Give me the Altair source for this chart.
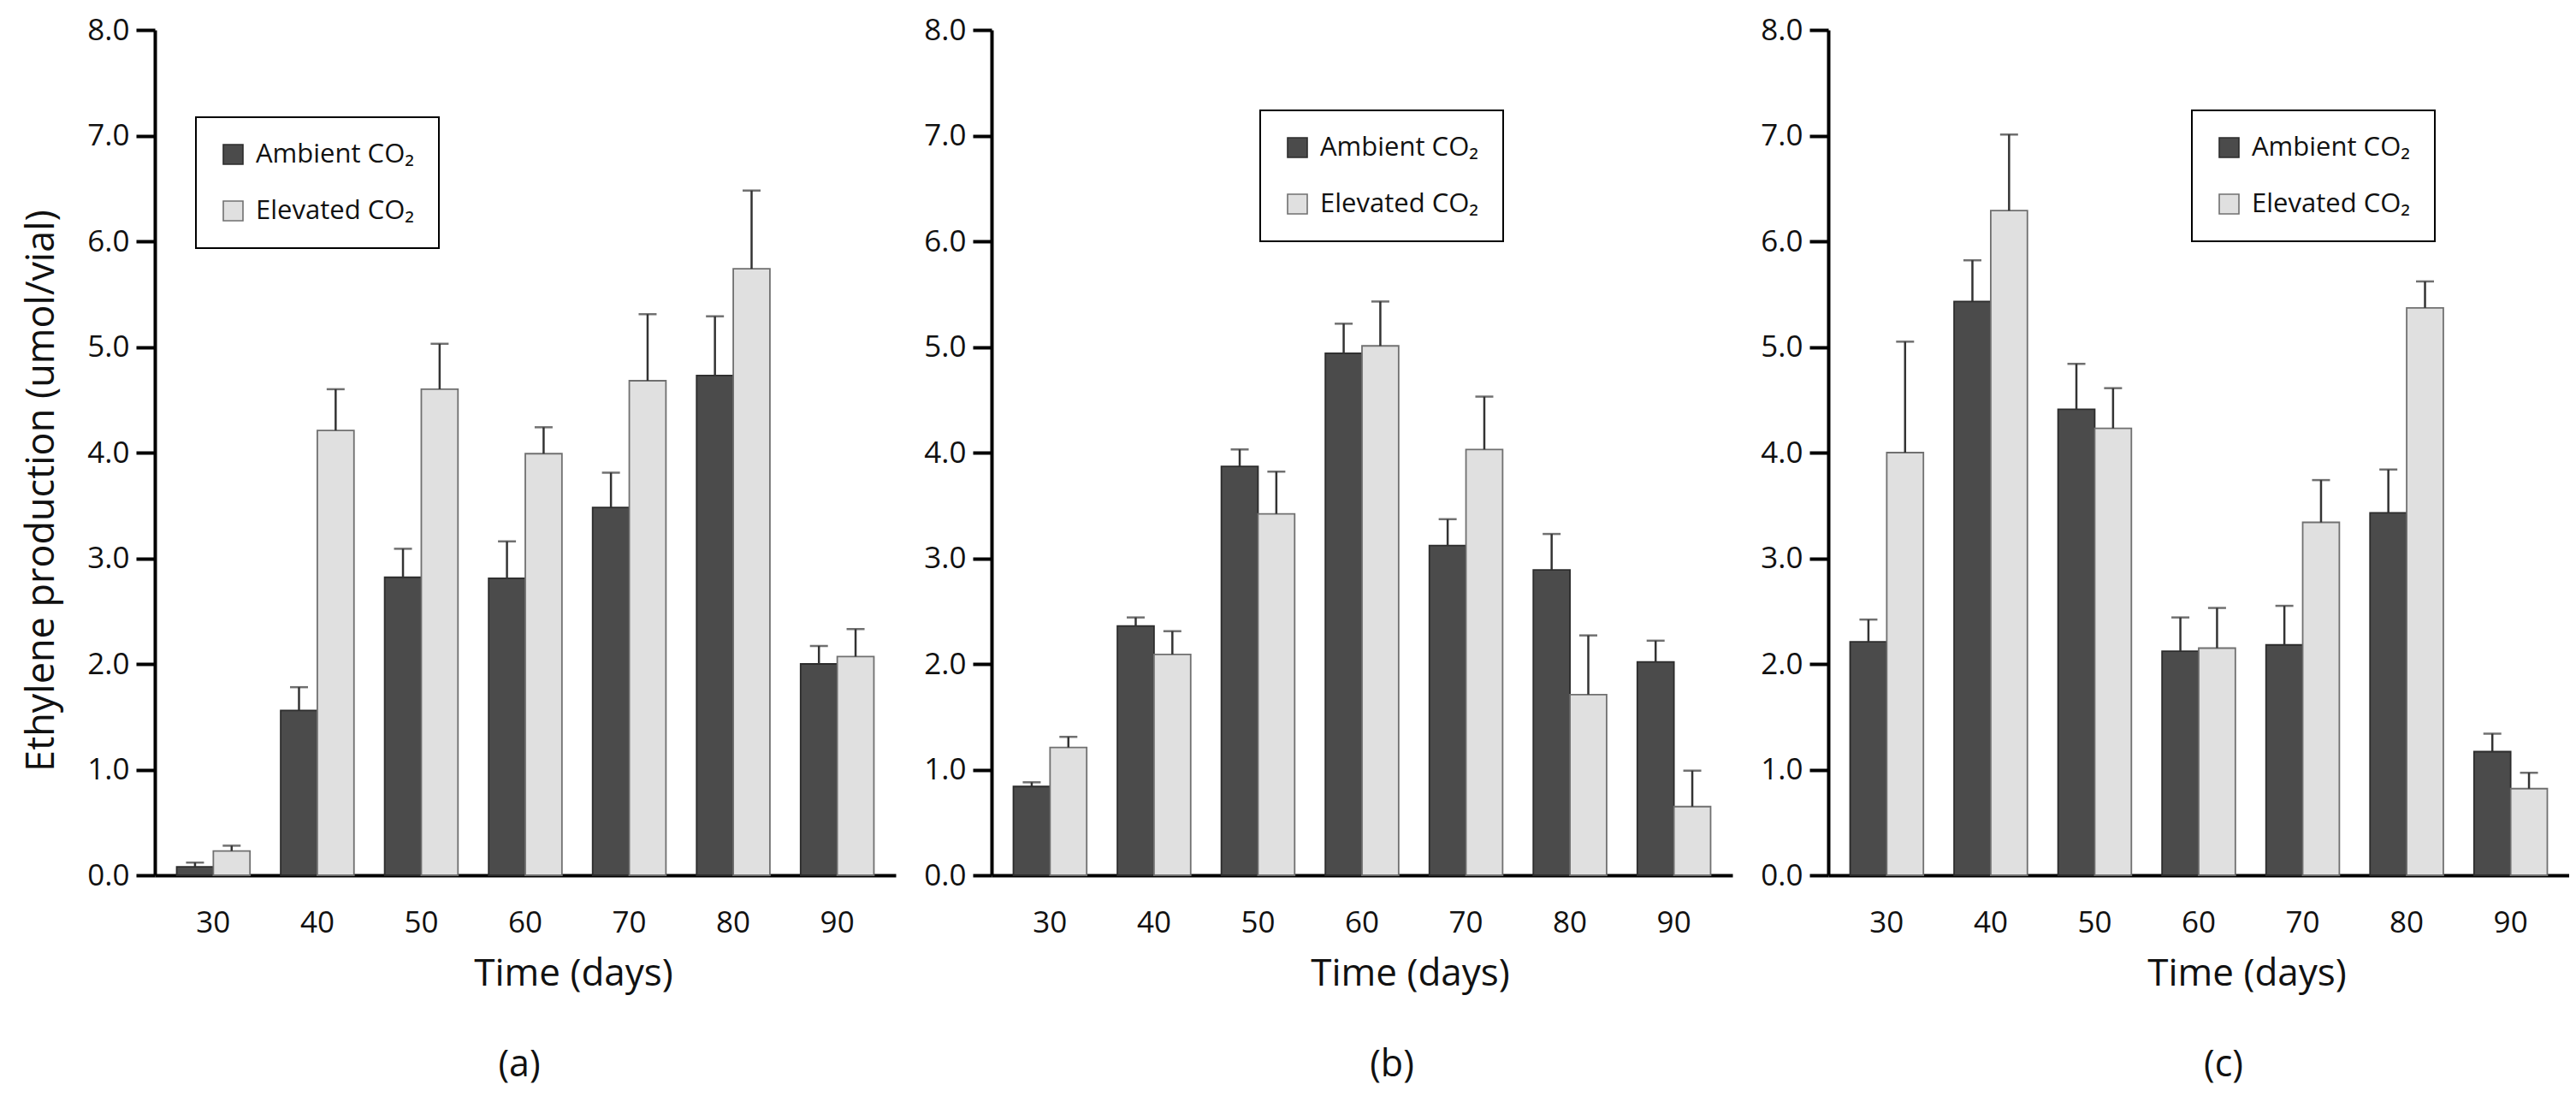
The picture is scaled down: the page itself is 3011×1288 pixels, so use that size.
import pandas as pd
import altair as alt

# ---- data ----
days = [30, 40, 50, 60, 70, 80, 90]
groups = ["Ambient CO₂", "Elevated CO₂"]

# panel (a)
amb_a = [0.08, 1.56, 2.82, 2.81, 3.48, 4.73, 2.00]
amb_a_top = [0.12, 1.78, 3.09, 3.16, 3.81, 5.29, 2.17]
elev_a = [0.23, 4.21, 4.60, 3.99, 4.68, 5.74, 2.07]
elev_a_top = [0.28, 4.60, 5.03, 4.24, 5.31, 6.48, 2.33]

# panel (b)
amb_b = [0.84, 2.36, 3.87, 4.94, 3.12, 2.89, 2.02]
amb_b_top = [0.88, 2.44, 4.03, 5.22, 3.37, 3.23, 2.22]
elev_b = [1.21, 2.09, 3.42, 5.01, 4.03, 1.71, 0.65]
elev_b_top = [1.31, 2.31, 3.82, 5.43, 4.53, 2.27, 0.99]

# panel (c)
amb_c = [2.21, 5.43, 4.41, 2.12, 2.18, 3.43, 1.17]
amb_c_top = [2.42, 5.82, 4.84, 2.44, 2.55, 3.84, 1.34]
elev_c = [4.00, 6.29, 4.23, 2.15, 3.34, 5.37, 0.82]
elev_c_top = [5.05, 7.01, 4.61, 2.53, 3.74, 5.62, 0.97]

y_ticks = [0, 1, 2, 3, 4, 5, 6, 7, 8]

FONT = "Open Sans"
W = 866
H = 988


def to_frame(amb, amb_top, elev, elev_top):
    rows = []
    for i, d in enumerate(days):
        rows.append({"day": d, "group": groups[0], "value": amb[i], "top": amb_top[i]})
        rows.append({"day": d, "group": groups[1], "value": elev[i], "top": elev_top[i]})
    return pd.DataFrame(rows)


def panel(df, letter, ytitle, leg_x, leg_y, title_dx):
    x = alt.X("day:N", sort=days,
              scale=alt.Scale(paddingInner=0.295, paddingOuter=0.21),
              axis=alt.Axis(title="Time (days)", labelAngle=0, ticks=False,
                            labelPadding=38, titleX=W / 2 + 56, titleY=115,
                            titleBaseline="middle", titleAlign="center"))
    xo = alt.XOffset("group:N", sort=groups,
                     scale=alt.Scale(paddingInner=0, paddingOuter=0))
    if ytitle:
        yaxis = alt.Axis(title=ytitle, values=y_ticks, format=".1f",
                         titleX=-133, titleY=538, titleAlign="center",
                         titleBaseline="middle", titleAngle=270, titleFontSize=45)
    else:
        yaxis = alt.Axis(title=None, values=y_ticks, format=".1f")
    y = alt.Y("value:Q", scale=alt.Scale(domain=[0, 8], nice=False), axis=yaxis)

    base = alt.Chart(df)
    bars = base.mark_bar(strokeWidth=1.8).encode(
        x=x, xOffset=xo, y=y,
        color=alt.Color("group:N", sort=groups,
                        scale=alt.Scale(domain=groups, range=["#4b4b4b", "#e0e0e0"]),
                        legend=alt.Legend(title=None, orient="none",
                                          legendX=leg_x, legendY=leg_y)),
        stroke=alt.Stroke("group:N", sort=groups,
                          scale=alt.Scale(domain=groups, range=["#2c2c2c", "#707070"]),
                          legend=None),
    )
    err = base.mark_rule(color="#333333", strokeWidth=2.5).encode(
        x=x, xOffset=xo, y="value:Q", y2="top:Q")
    cap = base.mark_tick(color="#333333", thickness=2.5, size=21).encode(
        x=x, xOffset=xo, y="top:Q")

    return alt.layer(bars, err, cap).properties(
        width=W, height=H,
        title=alt.TitleParams(text=letter, orient="bottom", anchor="middle",
                              frame="group", dx=title_dx, offset=64,
                              fontSize=43, font=FONT, fontWeight="normal",
                              color="#111111"),
    ).resolve_scale(color="independent", stroke="independent")


pa = panel(to_frame(amb_a, amb_a_top, elev_a, elev_a_top), "(a)",
           "Ethylene production (umol/vial)", 48, 102, -7)
pb = panel(to_frame(amb_b, amb_b_top, elev_b, elev_b_top), "(b)", None, 314, 94, 35)
pc = panel(to_frame(amb_c, amb_c_top, elev_c, elev_c_top), "(c)", None, 425, 94, 29)

chart = alt.hconcat(pa, pb, pc, spacing=32).resolve_scale(
    color="independent", stroke="independent"
).resolve_legend(color="independent").properties(
    padding={"left": 18, "top": 10, "right": 0, "bottom": 14}
).configure_view(
    stroke=None
).configure_axis(
    domainColor="black", domainWidth=4, tickColor="black", tickWidth=4,
    tickSize=22, grid=False, labelFont=FONT, labelFontSize=35,
    labelColor="#111111", titleFont=FONT, titleFontSize=44,
    titleFontWeight="normal", titleColor="#111111", labelPadding=8,
).configure_legend(
    strokeColor="black", strokeWidth=2, padding=28, symbolType="square",
    symbolSize=529, symbolStrokeColor="#1a1a1a", symbolStrokeWidth=1.6,
    symbolOpacity=1, labelFont=FONT, labelFontSize=31, labelColor="#111111",
    rowPadding=34, labelOffset=11, fillColor="white", labelLimit=400,
)

chart.save("out.html", embed_options={"renderer": "svg", "actions": False})
